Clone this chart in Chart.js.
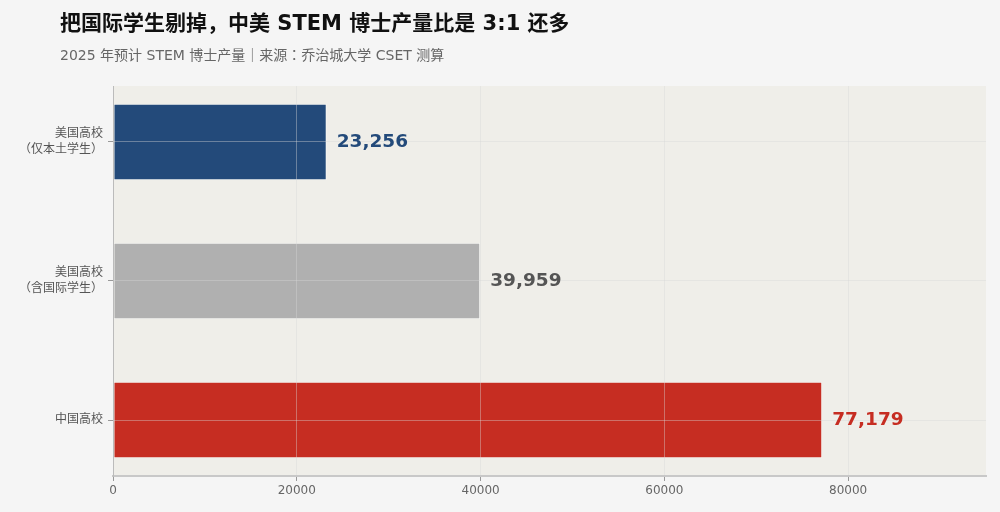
<!DOCTYPE html>
<html>
<head>
<meta charset="utf-8">
<script src="https://cdn.jsdelivr.net/npm/chart.js@4"></script>
<style>
  html, body { margin: 0; padding: 0; background: #f5f5f5; }
  #wrap { position: relative; width: 1000px; height: 512px; }
  .title { position: absolute; left: 60px; top: 6px; font: bold 21px "DejaVu Sans", "Noto Sans CJK JP", sans-serif; color: #111; white-space: nowrap; }
  .subtitle { position: absolute; left: 60px; top: 44px; font: 14px "DejaVu Sans", "Noto Sans CJK JP", sans-serif; color: #666; white-space: nowrap; }
  canvas { position: absolute; left: 0; top: 0; }
</style>
</head>
<body>
<div id="wrap">
  <canvas id="chart" width="1000" height="512"></canvas>
  <div class="title">把国际学生剔掉，中美 STEM 博士产量比是 3:1 还多</div>
  <div class="subtitle">2025 年预计 STEM 博士产量｜来源：乔治城大学 CSET 测算</div>
</div>
<script>
// bottom to top
const categories = [
    ['中国高校'],
    ['美国高校', '（含国际学生）'],
    ['美国高校', '（仅本土学生）']
];
const phdCounts = [77179, 39959, 23256];
const barColors = ['#c62d22', '#b0b0b0', '#234a7a'];
const labelColors = ['#c62d22', '#555555', '#234a7a'];
const xTicks = [0, 20000, 40000, 60000, 80000];
const xMax = 95000;

const fontFamily = '"DejaVu Sans", "Noto Sans CJK JP", sans-serif';
Chart.defaults.font.family = fontFamily;

const plotBg = {
    id: 'plotBg',
    beforeDraw(chart) {
        const a = chart.chartArea;
        const ctx = chart.ctx;
        ctx.save();
        ctx.fillStyle = '#efeee9';
        ctx.fillRect(a.left, a.top, a.right - a.left, a.bottom - a.top);
        ctx.restore();
    }
};

const valueLabels = {
    id: 'valueLabels',
    afterDraw(chart) {
        const ctx = chart.ctx;
        const xs = chart.scales.x, ys = chart.scales.y;
        ctx.save();
        ctx.font = 'bold 18.5px ' + fontFamily;
        ctx.textBaseline = 'middle';
        ctx.textAlign = 'left';
        phdCounts.forEach((v, i) => {
            ctx.fillStyle = labelColors[i];
            ctx.fillText(v.toLocaleString('en-US'), xs.getPixelForValue(v) + 10, ys.getPixelForValue(i));
        });
        ctx.restore();
    }
};

const gridColor = 'rgba(215,215,215,0.4)';

const ctx = document.getElementById('chart').getContext('2d');
new Chart(ctx, {
    type: 'bar',
    data: {
        datasets: [{
            data: phdCounts.map((v, i) => ({ x: v, y: i })),
            backgroundColor: barColors,
            borderColor: 'rgba(255,255,255,0.55)',
            borderWidth: 1,
            borderSkipped: false,
            categoryPercentage: 1,
            barPercentage: 0.55
        }]
    },
    options: {
        indexAxis: 'y',
        responsive: false,
        animation: false,
        layout: { padding: { top: 86, right: 14, left: 0, bottom: 0 } },
        plugins: {
            legend: { display: false },
            tooltip: { enabled: false }
        },
        scales: {
            x: {
                type: 'linear',
                min: 0,
                max: xMax,
                afterBuildTicks: s => { s.ticks = xTicks.map(v => ({ value: v })); },
                afterFit: s => { s.height = 36; },
                ticks: {
                    callback: v => String(v),
                    color: '#666',
                    font: { size: 12 },
                    padding: 3
                },
                grid: {
                    z: 1,
                    color: gridColor,
                    tickColor: '#999',
                    tickLength: 5
                },
                border: { z: 1, color: '#c8c8c8', width: 2 }
            },
            y: {
                type: 'linear',
                min: -0.4025,
                max: 2.4025,
                offset: false,
                afterBuildTicks: s => { s.ticks = categories.map((c, i) => ({ value: i })); },
                afterFit: s => { s.width = 113; },
                ticks: {
                    callback: v => categories[v],
                    color: '#555',
                    font: { size: 12, lineHeight: 1.35 },
                    padding: 5
                },
                grid: {
                    z: 1,
                    offset: false,
                    color: gridColor,
                    tickColor: '#999',
                    tickLength: 5
                },
                border: { z: 1, color: '#bbbbbb', width: 1 }
            }
        }
    },
    plugins: [plotBg, valueLabels]
});
</script>
</body>
</html>
